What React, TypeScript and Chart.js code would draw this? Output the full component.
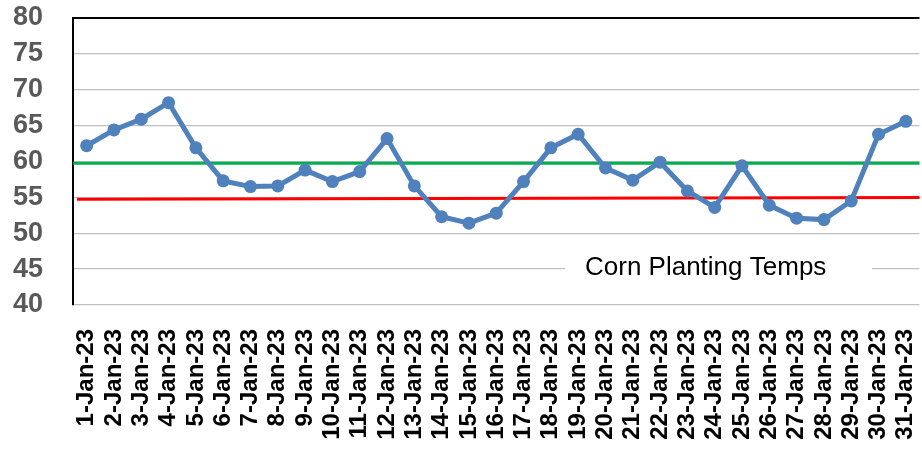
import React, { useEffect, useRef } from "react";
import { Chart, registerables } from "chart.js";

Chart.register(...registerables);

const labels: string[] = Array.from({ length: 31 }, (_, i) => `${i + 1}-Jan-23`);
const temps: number[] = [
  62.2, 64.4, 65.9, 68.2, 61.9, 57.3, 56.5, 56.6, 58.8, 57.2,
  58.6, 63.2, 56.6, 52.3, 51.4, 52.8, 57.2, 61.9, 63.8, 59.1,
  57.4, 59.9, 55.9, 53.6, 59.4, 53.9, 52.1, 51.9, 54.5, 63.8,
  65.6,
];
const greenLevel: number = 59.75;
const redLevelStart: number = 54.75;
const redLevelEnd: number = 55.0;
const yMin = 40;
const yMax = 80;
const yStep = 5;
const titleText = "Corn Planting Temps";

const FONT = "'Liberation Sans', Arial, sans-serif";

const overlayPlugin = {
  id: "overlay",
  beforeDatasetsDraw(chart: any) {
    const { ctx, chartArea, scales } = chart;
    const y = scales.y;
    ctx.save();
    // top border
    ctx.strokeStyle = "#000000";
    ctx.lineWidth = 2;
    ctx.beginPath();
    ctx.moveTo(chartArea.left - 1, chartArea.top);
    ctx.lineTo(chartArea.right, chartArea.top);
    ctx.stroke();
    // green line
    ctx.strokeStyle = "#00b050";
    ctx.lineWidth = 3;
    ctx.beginPath();
    ctx.moveTo(chartArea.left, y.getPixelForValue(greenLevel));
    ctx.lineTo(chartArea.right, y.getPixelForValue(greenLevel));
    ctx.stroke();
    // red line
    ctx.strokeStyle = "#ff0000";
    ctx.beginPath();
    ctx.moveTo(chartArea.left + 4, y.getPixelForValue(redLevelStart));
    ctx.lineTo(chartArea.right, y.getPixelForValue(redLevelEnd));
    ctx.stroke();
    // title box
    const ty = y.getPixelForValue(45);
    ctx.fillStyle = "#ffffff";
    ctx.fillRect(565, ty - 16, 307, 32);
    ctx.fillStyle = "#000000";
    ctx.font = `26px ${FONT}`;
    ctx.textAlign = "left";
    ctx.textBaseline = "alphabetic";
    ctx.fillText(titleText, 585, ty + 6);
    ctx.restore();
  },
};

function zeroPad(scale: any) {
  scale.paddingTop = 0;
  scale.paddingBottom = 0;
  scale.paddingLeft = 0;
  scale.paddingRight = 0;
}

export default function App() {
  const ref = useRef<HTMLCanvasElement | null>(null);
  useEffect(() => {
    if (!ref.current) return;
    const chart = new Chart(ref.current, {
      type: "line",
      data: {
        labels,
        datasets: [
          {
            label: "Temps",
            data: temps,
            borderColor: "#4f81bd",
            backgroundColor: "#4f81bd",
            borderWidth: 5,
            pointRadius: 6.5,
            pointBorderWidth: 0,
            pointBackgroundColor: "#4f81bd",
            tension: 0,
          },
        ],
      },
      options: {
        responsive: false,
        animation: false,
        layout: { padding: { top: 18, left: 0, right: 0, bottom: 0 } },
        plugins: { legend: { display: false }, tooltip: { enabled: false }, title: { display: false } },
        scales: {
          x: {
            offset: true,
            grid: { display: false, drawTicks: false },
            border: { display: false },
            ticks: {
              autoSkip: false,
              minRotation: 90,
              maxRotation: 90,
              padding: 24,
              color: "#000000",
              font: { family: FONT, size: 24, weight: "bold" },
            },
            afterFit(scale: any) {
              scale.height = 152;
              zeroPad(scale);
            },
          },
          y: {
            min: yMin,
            max: yMax,
            grid: { color: "#c0c0c0", lineWidth: 1.3, drawTicks: false },
            border: { display: true, color: "#000000", width: 2 },
            ticks: {
              stepSize: yStep,
              autoSkip: false,
              padding: 30,
              color: "#595959",
              font: { family: FONT, size: 27, weight: "bold" },
            },
            afterFit(scale: any) {
              scale.width = 73;
              zeroPad(scale);
            },
          },
        },
      },
      plugins: [overlayPlugin],
    });
    return () => chart.destroy();
  }, []);
  return (
    <div style={{ position: "fixed", left: 0, top: 0, width: 926, height: 457, background: "#fff" }}>
      <canvas ref={ref} width={926} height={457} />
    </div>
  );
}
